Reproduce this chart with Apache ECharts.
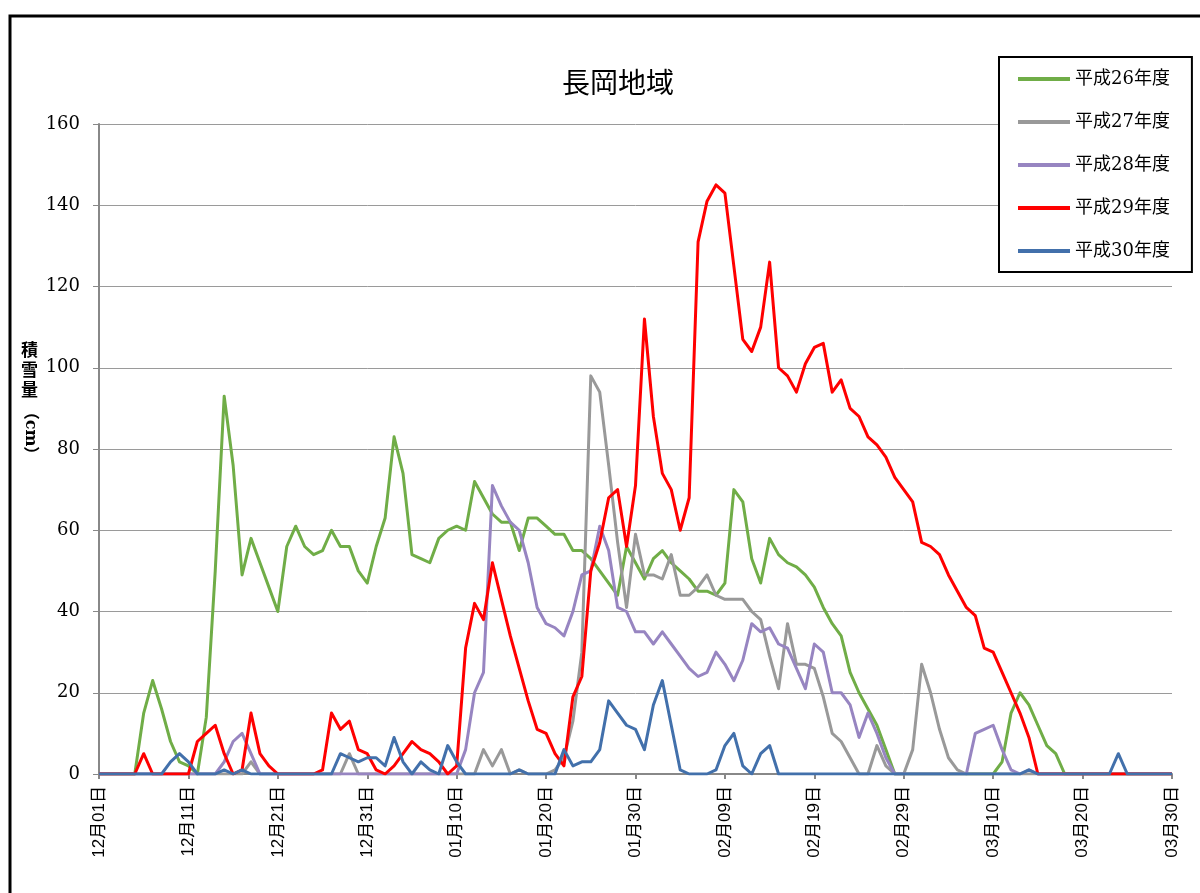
<!DOCTYPE html>
<html>
<head>
<meta charset="utf-8">
<title>長岡地域</title>
<script src="https://cdn.jsdelivr.net/npm/echarts@6/dist/echarts.min.js"></script>
<style>
  html, body { margin: 0; padding: 0; background: #fff; }
  #chart { width: 1200px; height: 893px; }
</style>
</head>
<body>
<div id="chart"></div>
<script>
// ---- data (積雪量 cm, 12/01 - 03/30) ----
var months = [12, 1, 2, 3];
var monthDays = [31, 31, 29, 30];

var seriesNames = ['平成26年度', '平成27年度', '平成28年度', '平成29年度', '平成30年度'];
var seriesColors = ['#70AD47', '#999999', '#9785C1', '#FF0000', '#4270AB'];

var h26 = [
  0, 0, 0, 0, 0, 15, 23, 16, 8, 3,
  2, 0, 14, 50, 93, 76, 49, 58, 52, 46,
  40, 56, 61, 56, 54, 55, 60, 56, 56, 50,
  47, 56, 63, 83, 74, 54, 53, 52, 58, 60,
  61, 60, 72, 68, 64, 62, 62, 55, 63, 63,
  61, 59, 59, 55, 55, 53, 50, 47, 44, 56,
  52, 48, 53, 55, 52, 50, 48, 45, 45, 44,
  47, 70, 67, 53, 47, 58, 54, 52, 51, 49,
  46, 41, 37, 34, 25, 20, 16, 12, 6, 0,
  0, 0, 0, 0, 0, 0, 0, 0, 0, 0,
  0, 3, 15, 20, 17, 12, 7, 5, 0, 0,
  0, 0, 0, 0, 0, 0, 0, 0, 0, 0,
  0
];
var h27 = [
  0, 0, 0, 0, 0, 0, 0, 0, 0, 0,
  0, 0, 0, 0, 0, 0, 0, 3, 0, 0,
  0, 0, 0, 0, 0, 0, 0, 0, 5, 0,
  0, 0, 0, 0, 0, 0, 0, 0, 0, 0,
  0, 0, 0, 6, 2, 6, 0, 1, 0, 0,
  0, 1, 4, 13, 30, 98, 94, 76, 57, 41,
  59, 49, 49, 48, 54, 44, 44, 46, 49, 44,
  43, 43, 43, 40, 38, 29, 21, 37, 27, 27,
  26, 19, 10, 8, 4, 0, 0, 7, 2, 0,
  0, 6, 27, 20, 11, 4, 1, 0, 0, 0,
  0, 0, 0, 0, 0, 0, 0, 0, 0, 0,
  0, 0, 0, 0, 0, 0, 0, 0, 0, 0,
  0
];
var h28 = [
  0, 0, 0, 0, 0, 0, 0, 0, 0, 0,
  0, 0, 0, 0, 3, 8, 10, 5, 0, 0,
  0, 0, 0, 0, 0, 0, 0, 0, 0, 0,
  0, 0, 0, 0, 0, 0, 0, 0, 0, 0,
  0, 6, 20, 25, 71, 66, 62, 60, 52, 41,
  37, 36, 34, 40, 49, 50, 61, 55, 41, 40,
  35, 35, 32, 35, 32, 29, 26, 24, 25, 30,
  27, 23, 28, 37, 35, 36, 32, 31, 26, 21,
  32, 30, 20, 20, 17, 9, 15, 10, 4, 0,
  0, 0, 0, 0, 0, 0, 0, 0, 10, 11,
  12, 6, 1, 0, 1, 0, 0, 0, 0, 0,
  0, 0, 0, 0, 0, 0, 0, 0, 0, 0,
  0
];
var h29 = [
  0, 0, 0, 0, 0, 5, 0, 0, 0, 0,
  0, 8, 10, 12, 5, 0, 1, 15, 5, 2,
  0, 0, 0, 0, 0, 1, 15, 11, 13, 6,
  5, 1, 0, 2, 5, 8, 6, 5, 3, 0,
  2, 31, 42, 38, 52, 43, 34, 26, 18, 11,
  10, 5, 2, 19, 24, 50, 57, 68, 70, 56,
  71, 112, 88, 74, 70, 60, 68, 131, 141, 145,
  143, 125, 107, 104, 110, 126, 100, 98, 94, 101,
  105, 106, 94, 97, 90, 88, 83, 81, 78, 73,
  70, 67, 57, 56, 54, 49, 45, 41, 39, 31,
  30, 25, 20, 15, 9, 0, 0, 0, 0, 0,
  0, 0, 0, 0, 0, 0, 0, 0, 0, 0,
  0
];
var h30 = [
  0, 0, 0, 0, 0, 0, 0, 0, 3, 5,
  3, 0, 0, 0, 1, 0, 1, 0, 0, 0,
  0, 0, 0, 0, 0, 0, 0, 5, 4, 3,
  4, 4, 2, 9, 3, 0, 3, 1, 0, 7,
  3, 0, 0, 0, 0, 0, 0, 1, 0, 0,
  0, 0, 6, 2, 3, 3, 6, 18, 15, 12,
  11, 6, 17, 23, 12, 1, 0, 0, 0, 1,
  7, 10, 2, 0, 5, 7, 0, 0, 0, 0,
  0, 0, 0, 0, 0, 0, 0, 0, 0, 0,
  0, 0, 0, 0, 0, 0, 0, 0, 0, 0,
  0, 0, 0, 0, 1, 0, 0, 0, 0, 0,
  0, 0, 0, 0, 5, 0, 0, 0, 0, 0,
  0
];

// category labels "12月01日" ...
var dates = [];
for (var m = 0; m < months.length; m++) {
  for (var d = 1; d <= monthDays[m]; d++) {
    dates.push(('0' + months[m]).slice(-2) + '月' + ('0' + d).slice(-2) + '日');
  }
}

var serifFont = "'DejaVu Serif', 'Noto Sans CJK JP', serif";
var sansFont = "'Liberation Sans', 'Noto Sans CJK JP', sans-serif";

var chart = echarts.init(document.getElementById('chart'));

var seriesData = [h26, h27, h28, h29, h30];
var series = [];
for (var i = 0; i < seriesData.length; i++) {
  series.push({
    name: seriesNames[i],
    type: 'line',
    data: seriesData[i],
    symbol: 'none',
    smooth: false,
    lineStyle: { width: 3, color: seriesColors[i], join: 'round' },
    itemStyle: { color: seriesColors[i] },
    animation: false
  });
}

var option = {
  backgroundColor: '#fff',
  animation: false,
  title: {
    text: '長岡地域',
    left: 557,
    top: 63,
    textStyle: {
      fontFamily: "'Noto Sans CJK JP', sans-serif",
      fontWeight: 'normal',
      fontSize: 28,
      color: '#000'
    }
  },
  legend: {
    orient: 'vertical',
    left: 999,
    top: 57,
    padding: [13, 22, 12, 19],
    itemGap: 25,
    itemWidth: 52,
    itemHeight: 4,
    icon: 'rect',
    borderColor: '#000',
    borderWidth: 2,
    backgroundColor: '#fff',
    data: seriesNames,
    textStyle: { fontFamily: serifFont, fontSize: 18, color: '#000' }
  },
  grid: { left: 99, right: 28, top: 124, bottom: 119, containLabel: false },
  xAxis: {
    type: 'category',
    data: dates,
    boundaryGap: false,
    axisLine: { lineStyle: { color: '#888', width: 2 } },
    axisTick: { interval: 9, length: 5, lineStyle: { color: '#888', width: 2 } },
    axisLabel: {
      interval: 9,
      rotate: 90,
      margin: 12,
      fontFamily: sansFont,
      fontSize: 17,
      color: '#000'
    },
    splitLine: { show: false }
  },
  yAxis: {
    type: 'value',
    min: 0,
    max: 160,
    interval: 20,
    axisLine: { show: true, lineStyle: { color: '#888', width: 2 } },
    axisTick: { show: true, length: 6, lineStyle: { color: '#888' } },
    axisLabel: { margin: 19, fontFamily: serifFont, fontSize: 18, color: '#000' },
    splitLine: { lineStyle: { color: '#9a9a9a', width: 1 } }
  },
  graphic: [
    {
      type: 'rect',
      shape: { x: 10, y: 16, width: 1220, height: 920 },
      style: { fill: 'none', stroke: '#000', lineWidth: 3 },
      silent: true
    },
    {
      type: 'text',
      left: 21,
      top: 340,
      style: {
        text: '積\n雪\n量',
        font: "bold 17px 'Noto Sans CJK JP'",
        lineHeight: 20,
        fill: '#000'
      }
    },
    {
      type: 'text',
      x: 30,
      y: 433,
      rotation: -Math.PI / 2,
      style: {
        text: '（cm）',
        font: "bold 16px 'DejaVu Serif', 'Noto Sans CJK JP'",
        align: 'center',
        verticalAlign: 'middle',
        fill: '#000'
      }
    }
  ],
  series: series
};

chart.setOption(option);
</script>
</body>
</html>
